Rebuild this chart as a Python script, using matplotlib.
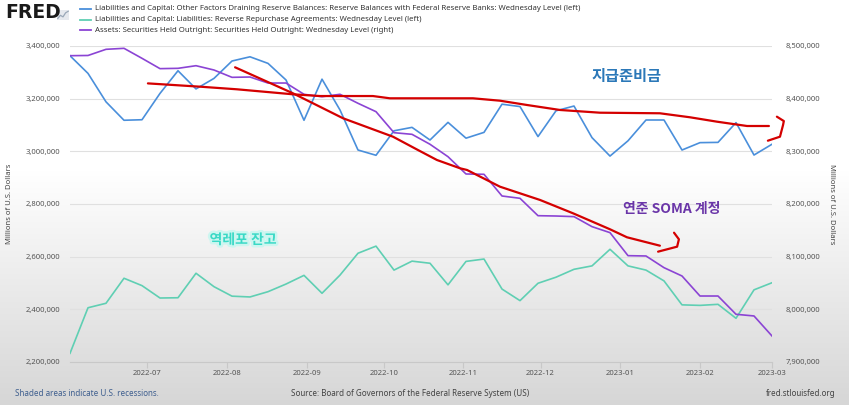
import matplotlib
matplotlib.use('Agg')
import matplotlib.pyplot as plt
import matplotlib.dates as mdates
import matplotlib.patheffects as pe
import numpy as np
import pandas as pd

plt.rcParams['font.family'] = ['Noto Sans', 'Noto Sans CJK KR', 'DejaVu Sans']

# weekly (Wednesday) levels, millions of US dollars
dates = pd.date_range('2022-06-01', periods=40, freq='7D')

reserves = [3363000, 3296000, 3188000, 3118000, 3120000, 3220000, 3306000, 3237000,
            3277000, 3343000, 3359000, 3334000, 3271000, 3118000, 3274000, 3157000,
            3005000, 2985000, 3078000, 3091000, 3043000, 3110000, 3050000, 3072000,
            3179000, 3170000, 3056000, 3154000, 3172000, 3052000, 2982000, 3040000,
            3119000, 3119000, 3005000, 3033000, 3034000, 3109000, 2986000, 3027000]

reverse_repo = [2233000, 2406000, 2423000, 2518000, 2490000, 2443000, 2444000, 2537000,
                2486000, 2450000, 2447000, 2467000, 2496000, 2529000, 2461000, 2530000,
                2613000, 2640000, 2549000, 2583000, 2575000, 2493000, 2582000, 2591000,
                2477000, 2433000, 2499000, 2522000, 2552000, 2565000, 2628000, 2565000,
                2549000, 2508000, 2417000, 2415000, 2419000, 2366000, 2474000, 2501000]

securities = [8481600, 8482000, 8493700, 8495600, 8476600, 8457000, 8457600, 8462600,
              8454400, 8440500, 8441100, 8429700, 8429700, 8408300, 8403700, 8408300,
              8391200, 8375300, 8335400, 8332300, 8313400, 8289800, 8257000, 8256400,
              8215200, 8210800, 8177800, 8177200, 8176000, 8157000, 8145600, 8101900,
              8101300, 8079100, 8063300, 8025300, 8025300, 7990600, 7987400, 7949400]

left_ticks = [2200000, 2400000, 2600000, 2800000, 3000000, 3200000, 3400000]
right_ticks = [7900000, 8000000, 8100000, 8200000, 8300000, 8400000, 8500000]
month_ticks = pd.date_range('2022-07-01', '2023-03-01', freq='MS')

legend_labels = [
    'Liabilities and Capital: Other Factors Draining Reserve Balances: Reserve Balances with Federal Reserve Banks: Wednesday Level (left)',
    'Liabilities and Capital: Liabilities: Reverse Repurchase Agreements: Wednesday Level (left)',
    'Assets: Securities Held Outright: Securities Held Outright: Wednesday Level (right)',
]

# hand-drawn red strokes (days after 2022-06-01, left-axis value)
red_flat_days = [30.3, 50.6, 64.9, 86.7, 97.2, 117.8, 124.4, 151.7, 156.7, 167.2, 177.7,
                 190.6, 206.1, 229.4, 241.1, 251.6, 263.3, 271.8]
red_flat_vals = [3258000, 3245500, 3235600, 3216600, 3210000, 3210000, 3201400, 3201400,
                 3201400, 3192300, 3176000, 3157000, 3146700, 3144500, 3129300, 3112600,
                 3096200, 3096200]
red_hook1_days = [274.9, 277.6, 277.3, 276.1, 271.4]
red_hook1_vals = [3131600, 3115000, 3100000, 3055600, 3040400]
red_slope_days = [64.2, 86.7, 106.2, 125.6, 135.3, 142.7, 151.7, 154.4, 167.2, 182.8,
                  195.6, 210.0, 216.6, 229.4]
red_slope_vals = [3319100, 3220400, 3125500, 3055600, 3005100, 2967100, 2935600, 2929200,
                  2865800, 2815300, 2764800, 2704000, 2673600, 2641700]
red_hook2_days = [228.7, 236.1, 236.8, 234.9]
red_hook2_vals = [2619000, 2638000, 2666000, 2691000]

c_blue = '#4a8fdb'
c_teal = '#5fcfb3'
c_purple = '#8b44d4'
c_red = '#d40000'

W, H = 849, 405
fig = plt.figure(figsize=(W / 100, H / 100), dpi=100)

# background: white top fading to grey at the bottom
bg = fig.add_axes([0, 0, 1, 1], zorder=-10)
grad = np.concatenate([np.ones(170), np.linspace(1.0, 0.84, H - 170)])
bg.imshow(np.tile(grad[:, None], (1, 4))[:, :, None] * np.ones(3), aspect='auto',
          extent=[0, 1, 0, 1], vmin=0, vmax=1)
bg.axis('off')

x0, x1, ytop, ybot = 70, 772, 46, 362
ax = fig.add_axes([x0 / W, 1 - ybot / H, (x1 - x0) / W, (ybot - ytop) / H])
ax.patch.set_alpha(0)
ax2 = ax.twinx()
ax3 = ax.twinx()

ax.plot(dates, reserves, color=c_blue, lw=1.2, zorder=3)
ax.plot(dates, reverse_repo, color=c_teal, lw=1.2, zorder=3)
ax2.plot(dates, securities, color=c_purple, lw=1.2)

t0 = dates[0]
def to_dates(days):
    return [t0 + pd.Timedelta(days=d) for d in days]

for dd, vv in [(red_flat_days, red_flat_vals), (red_hook1_days, red_hook1_vals),
               (red_slope_days, red_slope_vals), (red_hook2_days, red_hook2_vals)]:
    ax3.plot(to_dates(dd), vv, color=c_red, lw=1.6, solid_capstyle='round',
             solid_joinstyle='round', clip_on=False)

ax.set_xlim(dates[0], dates[-1])
ax.set_ylim(2200000, 3400000)
ax2.set_ylim(7900000, 8500000)
ax3.set_ylim(2200000, 3400000)
ax3.axis('off')

ax.set_yticks(left_ticks)
ax.set_yticklabels([f'{v:,}' for v in left_ticks])
ax2.set_yticks(right_ticks)
ax2.set_yticklabels([f'{v:,}' for v in right_ticks])
ax.grid(axis='y', color='#e0e0e0', lw=0.8)
ax.set_axisbelow(True)

for a in (ax, ax2):
    for s in a.spines.values():
        s.set_visible(False)
ax.spines['bottom'].set_visible(True)
ax.spines['bottom'].set_color('#c8c8c8')

ax.tick_params(axis='y', length=0, pad=7, labelsize=5.5, labelcolor='#555555')
ax2.tick_params(axis='y', length=0, pad=10, labelsize=5.5, labelcolor='#555555')
ax.set_xticks(month_ticks)
ax.xaxis.set_major_formatter(mdates.DateFormatter('%Y-%m'))
ax.tick_params(axis='x', length=4, color='#c8c8c8', labelsize=5.5, labelcolor='#555555', pad=2)

ax.set_ylabel('Millions of U.S. Dollars', fontsize=5.5, color='#444444')
ax.yaxis.set_label_coords((13 - x0) / (x1 - x0), 0.5)
ax2.set_ylabel('Millions of U.S. Dollars', fontsize=5.5, color='#444444', rotation=-90,
               va='center')
ax2.yaxis.set_label_coords((832 - x0) / (x1 - x0), 0.5)

# header: FRED logo and legend
fig.text(5 / W, 1 - 13 / H, 'FRED', fontsize=13.5, fontweight='bold', color='#1a1a1a',
         va='center', family='DejaVu Sans')
icon = fig.add_axes([57 / W, 1 - 20 / H, 12 / W, 10 / H])
icon.plot([0, 1, 2, 3, 4], [0.5, 1.5, 1.0, 2.3, 2.8], color='#9aa8b8', lw=0.9)
icon.set_xlim(-0.3, 4.3)
icon.set_ylim(0, 3.2)
icon.set_facecolor('#e6e9ee')
for s in icon.spines.values():
    s.set_visible(False)
icon.set_xticks([])
icon.set_yticks([])
for i, (lab, col) in enumerate(zip(legend_labels, [c_blue, c_teal, c_purple])):
    yy = 1 - (9 + i * 10.5) / H
    fig.add_artist(plt.Line2D([80 / W, 91 / W], [yy, yy], color=col, lw=1.3))
    fig.text(95 / W, yy, lab, fontsize=5.6, color='#333333', va='center')

# footer
fig.text(15 / W, 1 - 393 / H, 'Shaded areas indicate U.S. recessions.', fontsize=5.8,
         color='#3f5f8f', va='center')
fig.text(410 / W, 1 - 393 / H, 'Source: Board of Governors of the Federal Reserve System (US)',
         fontsize=5.8, color='#444444', va='center', ha='center')
fig.text(835 / W, 1 - 393 / H, 'fred.stlouisfed.org', fontsize=5.8, color='#444444',
         va='center', ha='right')

# Korean annotations
fig.text(627 / W, 1 - 76 / H, '지급준비금', fontsize=11, fontweight='bold', color='#2b78b8',
         ha='center', va='center', family='Noto Sans CJK KR')
fig.text(672 / W, 1 - 209 / H, '연준 SOMA 계정', fontsize=10, fontweight='bold',
         color='#6a35a8', ha='center', va='center', family='Noto Sans CJK KR')
fig.text(243 / W, 1 - 240 / H, '역레포 잔고', fontsize=10, fontweight='bold', color='#3ad9c6',
         ha='center', va='center', family='Noto Sans CJK KR',
         path_effects=[pe.withStroke(linewidth=3.5, foreground='#cdf6f0')])

fig.savefig('out.png', dpi=100)
